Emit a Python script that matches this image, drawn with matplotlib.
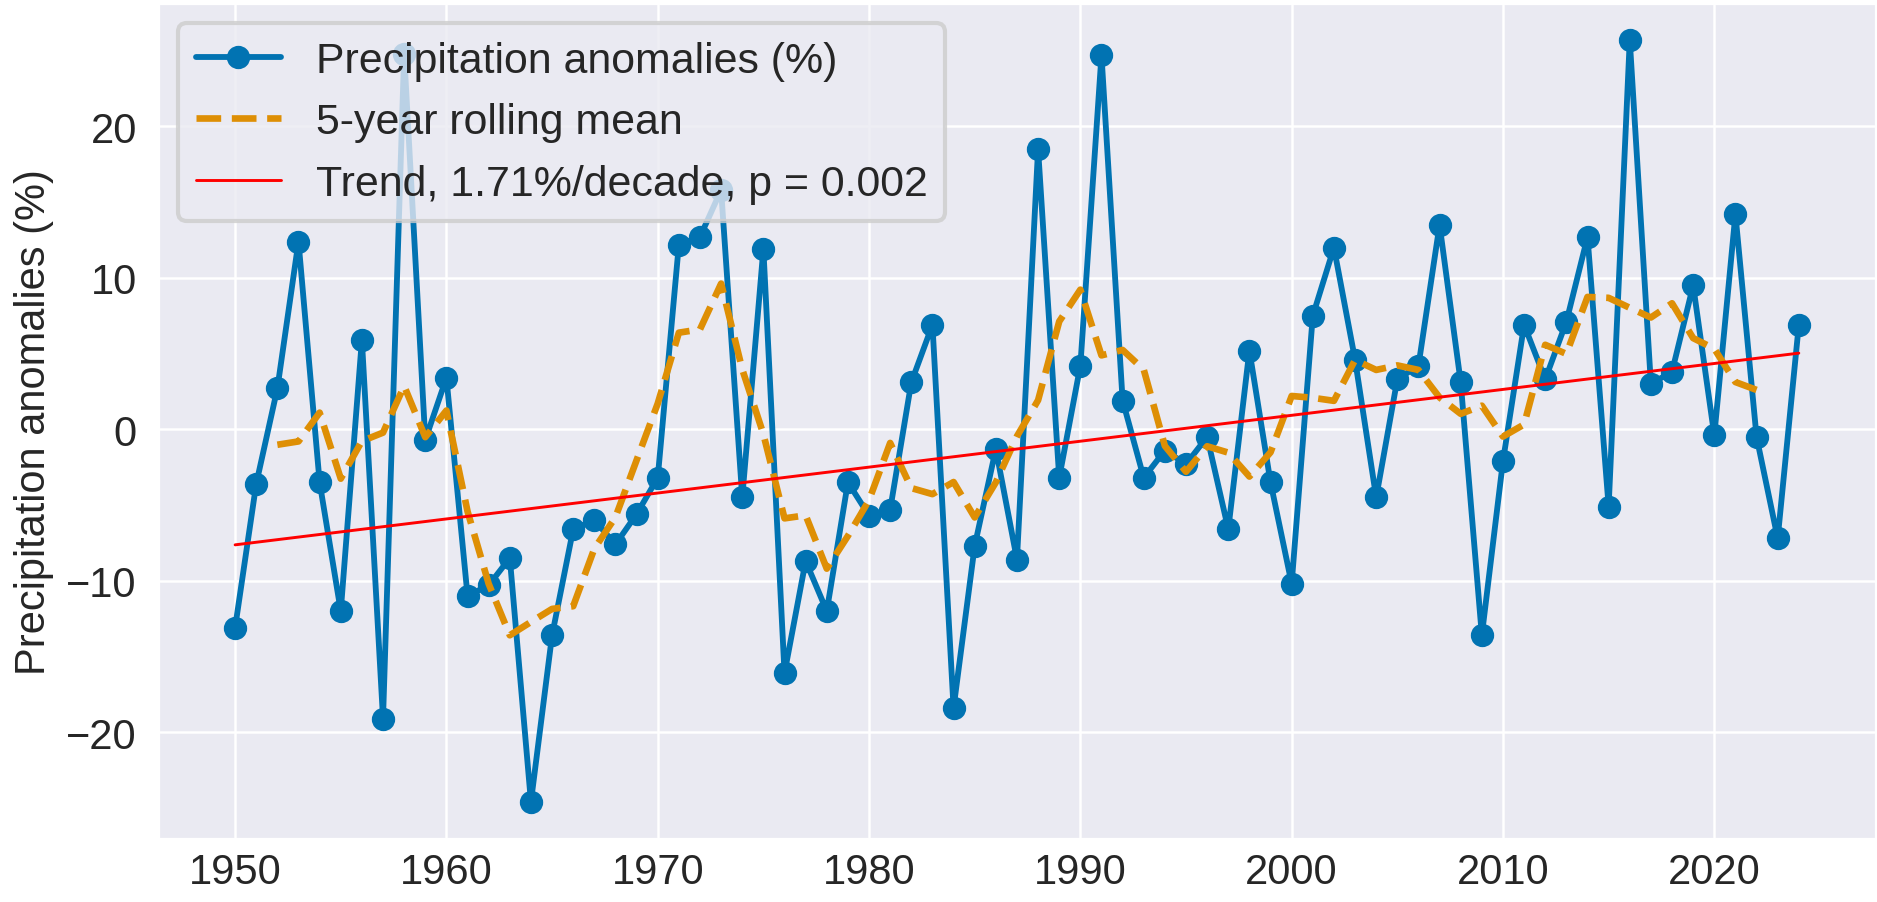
import numpy as np
import pandas as pd
import matplotlib
matplotlib.use("Agg")
import matplotlib.pyplot as plt
import seaborn as sns

# Annual precipitation anomalies (%)
years = np.arange(1950, 2025)
anomalies = [
    -13.1, -3.6, 2.7, 12.4, -3.5, -12.0, 5.9, -19.1, 24.8, -0.7,   # 1950s
    3.4, -11.0, -10.3, -8.5, -24.6, -13.6, -6.6, -6.0, -7.6, -5.6,  # 1960s
    -3.2, 12.2, 12.7, 15.8, -4.5, 11.9, -16.1, -8.7, -12.0, -3.5,   # 1970s
    -5.7, -5.3, 3.1, 6.9, -18.4, -7.7, -1.3, -8.6, 18.5, -3.2,      # 1980s
    4.2, 24.7, 1.9, -3.2, -1.4, -2.3, -0.5, -6.6, 5.2, -3.5,        # 1990s
    -10.2, 7.5, 12.0, 4.6, -4.5, 3.3, 4.2, 13.5, 3.1, -13.6,        # 2000s
    -2.1, 6.9, 3.3, 7.1, 12.7, -5.1, 25.7, 3.0, 3.8, 9.5,           # 2010s
    -0.4, 14.2, -0.5, -7.2, 6.9,                                    # 2020s
]
series_label = "Precipitation anomalies (%)"
rolling_label = "5-year rolling mean"
trend_label = "Trend, 1.71%/decade, p = 0.002"
ylabel = "Precipitation anomalies (%)"

sns.set_theme(style="darkgrid", palette="colorblind")
plt.rcParams["font.family"] = ["Liberation Sans", "DejaVu Sans"]
plt.rcParams["grid.linewidth"] = 0.6

s = pd.Series(anomalies, index=years)
rolling = s.rolling(5, center=True).mean()

# Sen's slope (median of pairwise slopes), line through the medians
i, j = np.triu_indices(len(years), k=1)
y = s.values
slope = np.median((y[j] - y[i]) / (years[j] - years[i]))
intercept = np.median(y) - slope * np.median(years)
trend = slope * years + intercept
print("sen slope per decade:", slope * 10, "median:", np.median(y))

fig, ax = plt.subplots(figsize=(1877 / 300, 903 / 300), dpi=300)
fig.subplots_adjust(left=0.0836, right=1.0, bottom=0.0687, top=0.9967)

colors = sns.color_palette("colorblind")
ax.plot(years, y, marker="o", color=colors[0], linewidth=1.4,
        markersize=4.6, label=series_label)
ax.plot(years, rolling.values, linestyle="--", color=colors[1], linewidth=1.6,
        label=rolling_label)
ax.plot(years, trend, color="red", linewidth=0.7, label=trend_label)

ax.set_ylabel(ylabel, fontsize=10, labelpad=3)
ax.tick_params(axis="both", labelsize=10, length=0)
ax.tick_params(axis="x", pad=2.9)
ax.tick_params(axis="y", pad=4.8)
ax.legend(loc="upper left", fontsize=10.3)

fig.savefig("out.png", dpi=300)
